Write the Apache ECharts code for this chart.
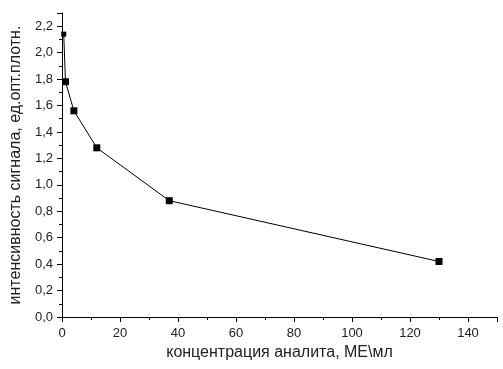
<!DOCTYPE html>
<html><head><meta charset="utf-8">
<script src="https://cdn.jsdelivr.net/npm/echarts@6/dist/echarts.min.js"></script>
<style>html,body{margin:0;padding:0;background:#fff}#c{width:503px;height:369px}</style>
</head><body><div id="c"></div>
<script>
var concentration = [0.6, 1.2, 4.1, 12, 37, 130];
var signal = [2.14, 1.78, 1.56, 1.28, 0.88, 0.42];
var xName = 'концентрация аналита, МЕ\\мл';
var yName = 'интенсивность сигнала, ед.опт.плотн.';

var data = concentration.map(function (x, i) {
  var d = { value: [x, signal[i]] };
  if (i === 0) d.symbolSize = 5;
  return d;
});
var font = 'Liberation Sans, Arial, sans-serif';
var chart = echarts.init(document.getElementById('c'), null, { renderer: 'canvas' });
chart.setOption({
  animation: false,
  backgroundColor: '#fff',
  grid: { left: 58, right: 6, top: 13, bottom: 52 },
  xAxis: {
    type: 'value', min: 0, max: 150, interval: 20,
    name: xName, nameLocation: 'middle', nameGap: 28,
    nameTextStyle: { fontFamily: font, fontSize: 16, color: '#222' },
    axisLine: { show: true, onZero: false, lineStyle: { color: '#000', width: 1 } },
    axisTick: { show: true, inside: false, length: 5, lineStyle: { color: '#000' } },
    minorTick: { show: true, splitNumber: 2, length: 3, lineStyle: { color: '#000' } },
    splitLine: { show: false },
    axisLabel: { fontFamily: font, fontSize: 13, color: '#222', margin: 10, showMaxLabel: false }
  },
  yAxis: {
    type: 'value', min: 0, max: 2.3, interval: 0.2,
    name: yName, nameLocation: 'middle', nameGap: 38,
    nameTextStyle: { fontFamily: font, fontSize: 16, color: '#222' },
    axisLine: { show: true, onZero: false, lineStyle: { color: '#000', width: 1 } },
    axisTick: { show: true, inside: false, length: 5, lineStyle: { color: '#000' } },
    minorTick: { show: true, splitNumber: 2, length: 3, lineStyle: { color: '#000' } },
    splitLine: { show: false },
    axisLabel: {
      fontFamily: font, fontSize: 13, color: '#222', margin: 9, showMaxLabel: false,
      formatter: function (v) { return v.toFixed(1).replace('.', ','); }
    }
  },
  series: [{
    type: 'line', data: data, clip: false,
    symbol: 'rect', symbolSize: 7,
    lineStyle: { color: '#000', width: 1 },
    itemStyle: { color: '#000' }
  }]
});
</script></body></html>
